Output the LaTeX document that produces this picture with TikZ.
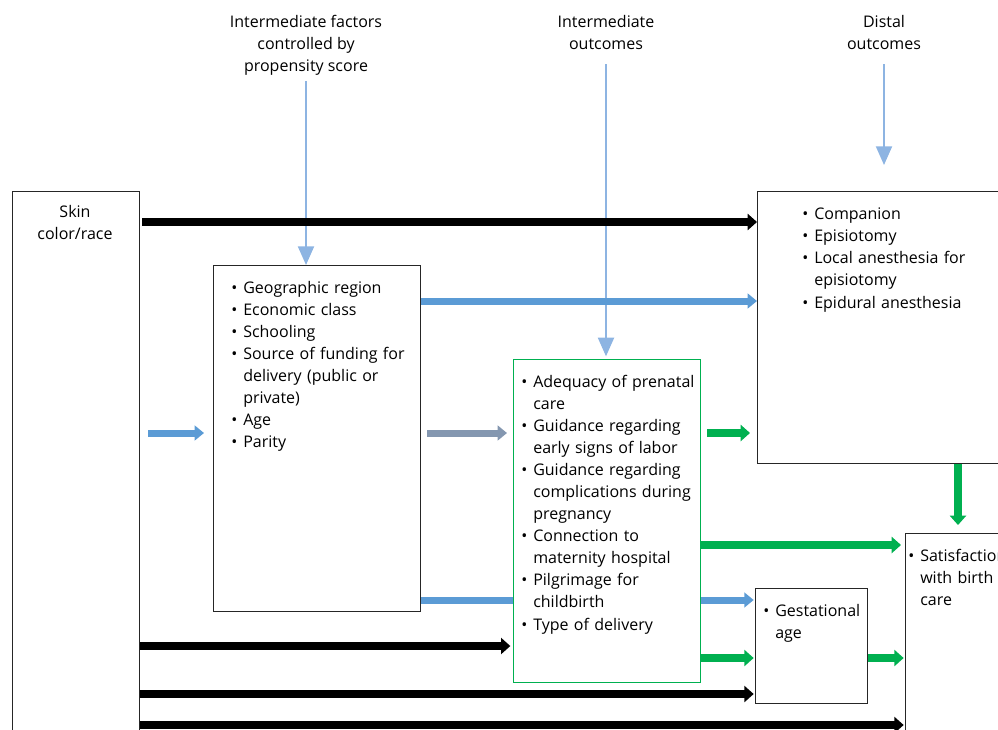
\documentclass[tikz,border=0pt]{standalone}
\usepackage{fontspec}
\setmainfont{Open Sans}
\usetikzlibrary{arrows.meta}
\usetikzlibrary{positioning}
\definecolor{barblue}{RGB}{91,155,213}
\definecolor{bargray}{RGB}{132,151,176}
\definecolor{bargreen}{RGB}{0,176,80}
\definecolor{pointblue}{RGB}{141,180,226}
\newcommand{\bitem}[1]{\par\lineskip=0pt\noindent\strut\makebox[9pt][l]{\textbullet}\parbox[t]{180pt}{#1\strut}}
\tikzset{
box/.style={draw=black!85, line width=1pt, anchor=north west, inner sep=0pt},
list/.style={anchor=north west, inner sep=0pt, text width=200pt, align=left, font=\fontsize{12}{16.5}\selectfont},
head/.style={anchor=north, inner sep=0pt, align=center, font=\fontsize{12}{16.5}\selectfont},
bar/.style={line width=6pt, -{Triangle[length=7pt,width=12pt]}},
black bar/.style={bar, draw=black},
blue bar/.style={bar, draw=barblue, line width=5.25pt, -{Triangle[length=7pt,width=11pt]}},
gray bar/.style={bar, draw=bargray, line width=5.25pt, -{Triangle[length=7pt,width=11pt]}},
green bar/.style={bar, draw=bargreen},
pointer/.style={draw=pointblue, line width=1.5pt, -{Triangle[length=14pt,width=12pt]}}
}
\begin{document}
\begin{tikzpicture}[x=0.75pt, y=-0.75pt]
		\useasboundingbox (0,0) rectangle (998,729);
		\clip (0,0) rectangle (998,729);
		% headers
		\node [head] (h1) at (306,11.6) {\strut Intermediate factors\\controlled by\\propensity score\strut};
		\node [head] (h2) at (606,11.6) {\strut Intermediate\\outcomes\strut};
		\node [head] (h3) at (884,11.6) {\strut Distal\\outcomes\strut};
		% boxes
		\node [box, minimum width=127*0.75pt, minimum height=600*0.75pt] (skin) at (12,191) {};
		\node [head] (skintext) at (75,201.6) {\strut Skin\\color/race};
		\node [box, minimum width=207*0.75pt, minimum height=346*0.75pt] (factors) at (213,265) {};
		\node [list] (factorstext) at (231,271) {\bitem{Geographic region}\bitem{Economic class}\bitem{Schooling}\bitem{Source of funding for\\delivery (public or\\private)}\bitem{Age}\bitem{Parity}};
		\node [box, draw=bargreen, minimum width=187*0.75pt, minimum height=323*0.75pt] (outcomes) at (513,359) {};
		\node [list] (outcomestext) at (521,365) {\bitem{Adequacy of prenatal\\care}\bitem{Guidance regarding\\early signs of labor}\bitem{Guidance regarding\\complications during\\pregnancy}\bitem{Connection to\\maternity hospital}\bitem{Pilgrimage for\\childbirth}\bitem{Type of delivery}};
		\node [box, minimum width=300*0.75pt, minimum height=272*0.75pt] (distal) at (757,191) {};
		\node [list] (distaltext) at (802,197) {\bitem{Companion}\bitem{Episiotomy}\bitem{Local anesthesia for\\episiotomy}\bitem{Epidural anesthesia}};
		\node [box, minimum width=112*0.75pt, minimum height=115*0.75pt] (gestation) at (755,588) {};
		\node [list] (gestationtext) at (763,594) {\bitem{Gestational\\age}};
		\node [box, minimum width=200*0.75pt, minimum height=300*0.75pt] (satisfaction) at (905,533) {};
		\node [list] (satisfactiontext) at (908,539) {\bitem{Satisfaction\\with birth\\care}};
		% free ends
		\coordinate (k1) at (142,222);
		\coordinate (b1) at (148,433);
		\coordinate (b2) at (204,433);
		\coordinate (g1) at (427,433);
		\coordinate (g2) at (507,433);
		\coordinate (e1) at (707,433);
		\coordinate (e2) at (750,433);
		\coordinate (d3) at (884,165);
		% pointers
		\draw [pointer, shorten <=2pt] (h1.south) to (h1.south |- factors.north);
		\draw [pointer, shorten <=6pt, shorten >=2pt] (h2.south) to (h2.south |- outcomes.north);
		\draw [pointer, shorten <=6pt] (h3.south) to (d3);
		% black bars
		\draw [black bar] (k1) to (distal.west |- k1);
		\draw [black bar] (skin.east |- 0,646) to ([xshift=-2pt]outcomes.west |- 0,646);
		\draw [black bar] (skin.east |- 0,694) to ([xshift=-1pt]gestation.west |- 0,694);
		\draw [black bar] (skin.east |- 0,725) to ([xshift=-1pt]satisfaction.west |- 0,725);
		% blue bars
		\draw [blue bar] (factors.east |- 0,301) to (distal.west |- 0,301);
		\draw [blue bar] (b1) to (b2);
		\draw [draw=barblue, line width=5.25pt] (factors.east |- 0,600) to (outcomes.west |- 0,600);
		\draw [blue bar] (outcomes.east |- 0,600) to ([xshift=-1pt]gestation.west |- 0,600);
		\draw [gray bar] (g1) to (g2);
		% green bars
		\draw [green bar] (e1) to (e2);
		\draw [green bar] (outcomes.east |- 0,545) to ([xshift=-3pt]satisfaction.west |- 0,545);
		\draw [green bar] (outcomes.east |- 0,658) to ([xshift=-1pt]gestation.west |- 0,658);
		\draw [green bar] (gestation.east |- 0,658) to ([xshift=-1pt]satisfaction.west |- 0,658);
		\draw [green bar] (distal.south -| 958,0) to ([yshift=6pt]satisfaction.north -| 958,0);
	\end{tikzpicture}
\end{document}
